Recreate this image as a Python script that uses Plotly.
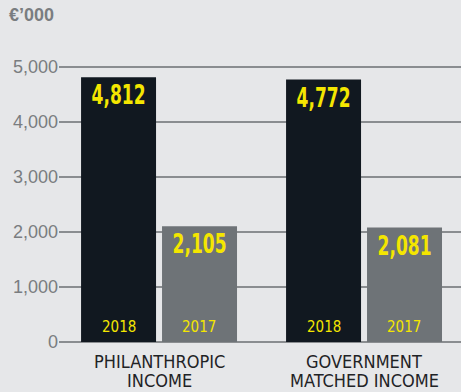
import plotly.graph_objects as go

# Income by stream, in thousands of euro
categories = ["PHILANTHROPIC INCOME", "GOVERNMENT MATCHED INCOME"]
category_lines = [["PHILANTHROPIC", "INCOME"], ["GOVERNMENT", "MATCHED INCOME"]]
years = ["2018", "2017"]
values_2018 = [4812, 4772]
values_2017 = [2105, 2081]
y_ticks = [0, 1000, 2000, 3000, 4000, 5000]
y_tick_labels = ["0", "1,000", "2,000", "3,000", "4,000", "5,000"]

BG = "#e6e7e9"
DARK = "#111820"
GREY = "#6e7377"
YELLOW = "#f4e600"
AXIS_TEXT = "#7a7d80"
GRID = "#8a8d90"
LABEL = "#1f2326"
COND = "DejaVu Sans Condensed, DejaVu Sans"

fig = go.Figure()
for year, vals, color in [(years[0], values_2018, DARK), (years[1], values_2017, GREY)]:
    fig.add_trace(go.Bar(
        name=year,
        x=categories,
        y=vals,
        marker=dict(color=color, line=dict(width=0)),
        text=[f"{v:,}" for v in vals],
        textposition="inside",
        insidetextanchor="end",
        textangle=0,
        constraintext="none",
        insidetextfont=dict(family=COND, size=26, color=YELLOW, weight="bold"),
        hoverinfo="skip",
    ))

# year captions at the foot of each bar
for cat in categories:
    for j, year in enumerate(years):
        fig.add_annotation(
            x=cat, y=0, xref="x", yref="y",
            text=year, showarrow=False,
            xshift=(-40 if j == 0 else 40), yshift=4,
            yanchor="bottom",
            font=dict(family=COND, size=15, color=YELLOW),
        )

# two-line category captions under the axis
for cat, lines in zip(categories, category_lines):
    for k, line in enumerate(lines):
        fig.add_annotation(
            x=cat, y=0, xref="x", yref="paper",
            text=line, showarrow=False,
            yanchor="top", yshift=-7 - 19 * k,
            font=dict(family=COND, size=18, color=LABEL),
        )

# axis unit label
fig.add_annotation(
    x=0, y=1, xref="paper", yref="paper", xanchor="left", yanchor="top",
    xshift=-52, yshift=59,
    text="<b>€’000</b>", showarrow=False,
    font=dict(family="Liberation Sans, Arial", size=18, color=AXIS_TEXT),
)

fig.update_layout(
    width=461, height=392,
    margin=dict(l=59, r=0, t=62, b=50),
    paper_bgcolor=BG, plot_bgcolor=BG,
    barmode="group", bargap=0.21, bargroupgap=0.074,
    showlegend=False,
    xaxis=dict(
        type="category", range=[-0.488, 1.473],
        showgrid=False, zeroline=False, showline=False, ticks="",
        showticklabels=False,
    ),
    yaxis=dict(
        range=[0, 5090.9], tickvals=y_ticks, ticktext=y_tick_labels,
        showgrid=True, gridcolor=GRID, gridwidth=1.5,
        zeroline=True, zerolinecolor=GRID, zerolinewidth=1.5,
        showline=False, ticks="",
        tickfont=dict(family="Liberation Sans, Arial", size=18, color=AXIS_TEXT),
    ),
)

# squeeze the value figures into a narrow, condensed set width
post = """
var gd = document.getElementById('{plot_id}');
function squeeze() {
  gd.querySelectorAll('text.bartext').forEach(function (t) {
    t.setAttribute('textLength', '54');
    t.setAttribute('lengthAdjust', 'spacingAndGlyphs');
  });
}
squeeze();
gd.on('plotly_afterplot', squeeze);
"""

fig.write_html("out.html", post_script=post)
